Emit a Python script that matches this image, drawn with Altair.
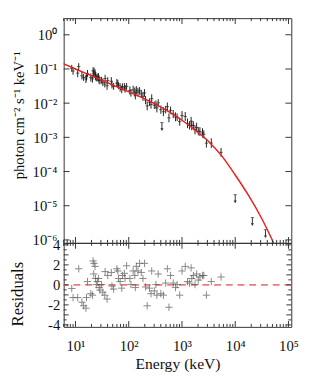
import json
import altair as alt
import pandas as pd

# ---------------- data ----------------
energy_keV = [8.5, 9.0, 11.5, 11.0, 13.2, 14.2, 15.7, 16.1, 16.8, 19.4,
              20.8, 21.4, 22.3, 23.3, 22.0, 23.8, 25.7, 24.6, 27.6, 28.8,
              30.9, 27.0, 32.6, 35.5, 39.2, 36.0, 40.3, 47.1, 48.4, 52.0,
              59.8, 62.4, 64.2, 68.9, 73.9, 76.0, 82.7, 85.1, 91.2, 105,
              110, 121, 130, 133, 139, 149, 160, 172, 185, 198,
              207, 222, 245, 262, 270, 302, 324, 338, 358, 401,
              448, 494, 531, 569, 611, 684, 755, 810, 906, 1000,
              1151, 1270, 1383, 1483, 1524, 1636, 1756, 1885, 2023, 2170,
              2428, 2570, 2876, 3550, 5420]
flux_log10 = [-0.98, -1.06, -0.93, -1.12, -1.20, -1.25, -1.29, -1.23, -1.13, -1.25,
              -1.29, -1.05, -1.08, -1.12, -1.15, -1.21, -1.25, -1.26, -1.31, -1.34,
              -1.33, -1.24, -1.39, -1.44, -1.49, -1.28, -1.34, -1.36, -1.46, -1.51,
              -1.41, -1.43, -1.49, -1.54, -1.60, -1.52, -1.53, -1.58, -1.51, -1.63,
              -1.70, -1.61, -1.67, -1.78, -1.62, -1.68, -1.64, -1.73, -1.80, -1.70,
              -1.91, -2.08, -1.97, -2.04, -1.87, -2.06, -2.04, -2.14, -1.99, -2.19,
              -2.25, -2.19, -2.10, -2.43, -2.21, -2.32, -2.40, -2.41, -2.54, -2.36,
              -2.39, -2.59, -2.65, -2.53, -2.65, -2.65, -2.78, -2.71, -2.82, -2.83,
              -2.87, -2.91, -3.17, -3.17, -3.44]
flux_err_dex = [0.10, 0.11, 0.10, 0.12, 0.11, 0.10, 0.12, 0.11, 0.10, 0.12,
                0.11, 0.10, 0.12, 0.11, 0.10, 0.12, 0.11, 0.10, 0.12, 0.11,
                0.10, 0.12, 0.11, 0.10, 0.12, 0.11, 0.10, 0.12, 0.11, 0.10,
                0.12, 0.11, 0.10, 0.12, 0.11, 0.10, 0.12, 0.11, 0.10, 0.12,
                0.11, 0.12, 0.13, 0.11, 0.12, 0.13, 0.11, 0.12, 0.13, 0.11,
                0.12, 0.13, 0.11, 0.12, 0.13, 0.11, 0.12, 0.13, 0.11, 0.12,
                0.13, 0.11, 0.12, 0.13, 0.11, 0.12, 0.13, 0.11, 0.12, 0.13,
                0.13, 0.14, 0.12, 0.13, 0.14, 0.12, 0.13, 0.14, 0.12, 0.13,
                0.14, 0.12, 0.13, 0.14, 0.13]
residuals = [-0.36, -1.27, 1.61, -1.27, -1.73, -2.09, -2.33, -1.27, 0.33, -0.88,
             -1.03, 2.39, 2.15, 1.85, 1.09, 0.64, 0.33, 0.03, -0.27, -0.52,
             0.03, 0.64, -0.73, -1.03, -1.42, 1.33, 0.94, 1.24, -0.12, -0.42,
             1.61, 1.39, 0.64, 0.33, -0.33, 0.94, 1.15, 0.64, 1.91, 0.64,
             0.03, 1.39, 0.94, -0.27, 1.85, 1.39, 2.15, 1.24, 0.64, 2.15,
             -0.21, -2.09, -0.33, -0.88, 1.39, -0.60, 0.03, -1.03, 1.09, -0.88,
             -1.03, 0.18, 1.61, -2.24, 0.94, 0.18, -0.27, 0.03, -1.03, 1.39,
             1.85, 0.33, 0.18, 1.70, 0.64, 0.94, 0.03, 1.09, 0.48, 0.79,
             0.94, 0.94, -1.03, 0.33, 0.79]

ul_energy = [420, 10000, 21000, 37000]
ul_flux = [2.7e-3, 2.1e-5, 4.5e-6, 2.0e-6]

model_energy = [5.6, 10, 31.6, 56.2, 100, 178, 316, 562, 1000, 1778,
                3162, 5623, 10000, 17783, 31623, 63096]
model_flux = [0.148, 0.100, 0.0468, 0.0316, 0.0214, 0.01445, 0.00933, 0.00562,
              0.00316, 0.00162, 7.59e-4, 2.82e-4, 7.94e-5, 2.0e-5, 4.17e-6, 4.47e-7]

x_major = [10, 100, 1000, 10000, 100000]
x_labels = ["10¹", "10²", "10³", "10⁴", "10⁵"]
x_minor = [6, 7, 8, 9, 20, 30, 40, 50, 60, 70, 80, 90,
           200, 300, 400, 500, 600, 700, 800, 900,
           2000, 3000, 4000, 5000, 6000, 7000, 8000, 9000,
           20000, 30000, 40000, 50000, 60000, 70000, 80000, 90000]
y_major = [1, 0.1, 0.01, 0.001, 1e-4, 1e-5, 1e-6]
y_labels = ["10⁰", "10⁻¹", "10⁻²", "10⁻³", "10⁻⁴", "10⁻⁵", "10⁻⁶"]
res_major = [-4, -3, -2, -1, 0, 1, 2, 3, 4]
res_minor = [-3.5, -2.5, -1.5, -0.5, 0.5, 1.5, 2.5, 3.5]
res_labels_at = [-4, -2, 0, 2, 4]

# ---------------- tables ----------------
pts = pd.DataFrame({"E": energy_keV, "logF": flux_log10, "err": flux_err_dex, "res": residuals})
pts["F"] = 10 ** pts["logF"]
pts["lo"] = 10 ** (pts["logF"] - pts["err"])
pts["hi"] = 10 ** (pts["logF"] + pts["err"])
ul = pd.DataFrame({"E": ul_energy, "F": ul_flux})
ul["Fb"] = ul["F"] * 0.62
model = pd.DataFrame({"E": model_energy, "F": model_flux})

W, H1, H2 = 233, 230, 86
XDOM = [6.0, 113000]
YDOM = [8.2e-7, 3.06]
RDOM = [-4.2, 4.2]
FONT = "Liberation Serif"
INK = "#333333"

xs = alt.Scale(type="log", domain=XDOM, nice=False)
ys = alt.Scale(type="log", domain=YDOM, nice=False)
rs = alt.Scale(domain=RDOM, nice=False, zero=False)

xlab_expr = json.dumps(x_labels, ensure_ascii=False) + "[round(log(datum.value)/LN10)-1]"
ylab_expr = json.dumps(y_labels, ensure_ascii=False) + "[round(-log(datum.value)/LN10)]"

yaxis_top = alt.Axis(values=y_major, labelExpr=ylab_expr, ticks=False, domain=False, grid=False,
                     labelFontSize=15, labelPadding=7, labelOverlap=False,
                     title="photon cm⁻² s⁻¹ keV⁻¹", titleFontSize=15, titlePadding=6,
                     titleY=99)
xaxis_res = alt.Axis(values=x_major, labelExpr=xlab_expr, ticks=False, domain=False, grid=False,
                     labelFontSize=15, labelPadding=12, labelOverlap=False,
                     title="Energy (keV)", titleFontSize=16, titlePadding=3)
yaxis_res = alt.Axis(values=res_labels_at, ticks=False, domain=False, grid=False,
                     labelExpr="datum.value < 0 ? '-' + abs(datum.value) : '' + datum.value",
                     labelFontSize=15, labelPadding=4, labelOverlap=False,
                     title="Residuals", titleFontSize=17, titlePadding=22, titleY=52)

xt = pd.DataFrame({"v": x_major})
xm = pd.DataFrame({"v": x_minor})
yt = pd.DataFrame({"v": y_major})
rt = pd.DataFrame({"v": res_major})
rm = pd.DataFrame({"v": res_minor})


def xticks(df, h, L, xaxis):
    top = alt.Chart(df).mark_rule(color=INK, strokeWidth=1).encode(
        x=alt.X("v:Q", scale=xs, axis=xaxis), y=alt.value(0), y2=alt.value(L))
    bot = alt.Chart(df).mark_rule(color=INK, strokeWidth=1).encode(
        x=alt.X("v:Q", scale=xs, axis=xaxis), y=alt.value(h), y2=alt.value(h - L))
    return [top, bot]


def yticks(df, scale, L, yaxis):
    left = alt.Chart(df).mark_rule(color=INK, strokeWidth=1).encode(
        y=alt.Y("v:Q", scale=scale, axis=yaxis), x=alt.value(0), x2=alt.value(L))
    right = alt.Chart(df).mark_rule(color=INK, strokeWidth=1).encode(
        y=alt.Y("v:Q", scale=scale, axis=yaxis), x=alt.value(W), x2=alt.value(W - L))
    return [left, right]


# ---------------- top panel ----------------
X1 = dict(scale=xs, axis=None)
Y1 = dict(scale=ys, axis=yaxis_top)

err = alt.Chart(pts).mark_rule(color="#222222", strokeWidth=1, clip=True).encode(
    x=alt.X("E:Q", **X1), y=alt.Y("lo:Q", **Y1), y2="hi:Q")
cap = alt.Chart(pts).mark_point(shape="M-1,0H1", size=12, color="#222222", strokeWidth=1,
                                filled=False, clip=True).encode(
    x=alt.X("E:Q", **X1), y=alt.Y("F:Q", **Y1))
ul_rule = alt.Chart(ul).mark_rule(color=INK, strokeWidth=1, clip=True).encode(
    x=alt.X("E:Q", **X1), y=alt.Y("F:Q", **Y1), y2="Fb:Q")
ul_cap = alt.Chart(ul).mark_point(shape="M-1,0H1", size=12, color=INK, strokeWidth=1,
                                  filled=False, clip=True).encode(
    x=alt.X("E:Q", **X1), y=alt.Y("F:Q", **Y1))
ul_head = alt.Chart(ul).mark_point(shape="triangle-down", size=10, color=INK, filled=True,
                                   opacity=1, clip=True).encode(
    x=alt.X("E:Q", **X1), y=alt.Y("Fb:Q", **Y1))
line = alt.Chart(model).mark_line(color="#e8221b", strokeWidth=1.5, interpolate="monotone",
                                  clip=True).encode(
    x=alt.X("E:Q", **X1), y=alt.Y("F:Q", **Y1))

top_layers = [err, cap, ul_rule, ul_cap, ul_head, line]
top_layers += xticks(xt, H1, 6, None) + xticks(xm, H1, 3, None)
top_layers += yticks(yt, ys, 6, yaxis_top)
top = alt.layer(*top_layers).properties(width=W, height=H1)

# ---------------- residual panel ----------------
crosses = alt.Chart(pts).mark_point(shape="M-1,0H1M0,-1V1", size=56, color="#555555",
                                    strokeWidth=1, filled=False, clip=True).encode(
    x=alt.X("E:Q", scale=xs, axis=xaxis_res),
    y=alt.Y("res:Q", scale=rs, axis=yaxis_res))
zero = alt.Chart(pd.DataFrame({"z": [0.0]})).mark_rule(
    color="#f07a7a", strokeWidth=2, strokeDash=[7, 5]).encode(
    y=alt.Y("z:Q", scale=rs, axis=yaxis_res))

res_layers = [zero, crosses]
res_layers += xticks(xt, H2, 6, xaxis_res) + xticks(xm, H2, 3, xaxis_res)
res_layers += yticks(rt, rs, 5, yaxis_res) + yticks(rm, rs, 3, yaxis_res)
bottom = alt.layer(*res_layers).properties(width=W, height=H2)

chart = alt.vconcat(top, bottom, spacing=0, bounds="flush").properties(
    padding={"left": 0, "top": 5, "right": 5, "bottom": 5}
).configure_view(stroke=INK, strokeWidth=1).configure_axis(
    labelFont=FONT, titleFont=FONT, labelColor="#111111", titleColor="#111111",
    titleFontWeight="normal"
)

chart.save("out.html", embed_options={"renderer": "svg", "actions": False})
